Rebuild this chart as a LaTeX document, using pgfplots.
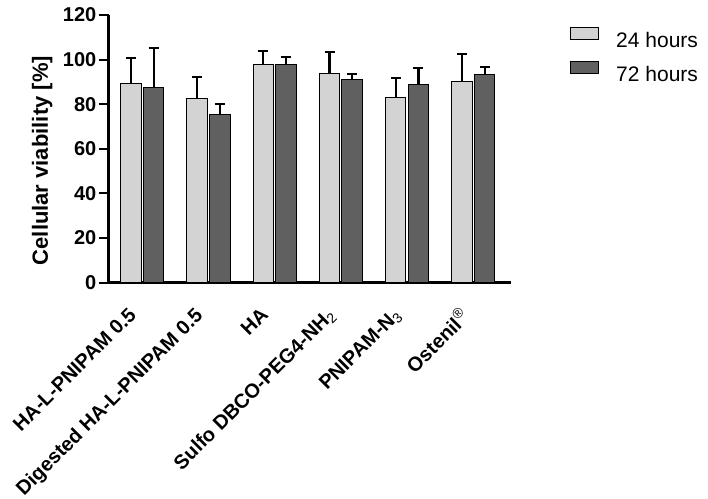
\documentclass[border=0pt]{standalone}
\usepackage{fontspec}
\setmainfont{Liberation Sans}
\usepackage{pgfplots}
\pgfplotsset{compat=1.18}
\definecolor{lightbar}{RGB}{211,211,211}
\definecolor{darkbar}{RGB}{96,96,96}
\begin{document}
\begin{tikzpicture}
\useasboundingbox (0,0) rectangle (708pt,498pt);
\begin{axis}[
  at={(108.5pt,215.3pt)}, anchor=south west,
  scale only axis, width=402.2pt, height=267.7pt,
  xmin=-0.51, xmax=5.565, ymin=0, ymax=120,
  axis lines=left, axis line style={-, line width=2.5pt, black},
  ybar=2.2pt, bar width=20.5pt,
  xtick={0,1,2,3,4,5},
  xticklabels={{HA-L-PNIPAM 0.5},{Digested HA-L-PNIPAM 0.5},{HA},{Sulfo DBCO-PEG4-NH\textsubscript{\mdseries 2}},{PNIPAM-N\textsubscript{\mdseries 3}},{Ostenil\textsuperscript{\mdseries\textregistered}}},
  major x tick style={draw=none},
  ytick={0,20,...,120},
  tick align=outside, major tick length=10pt,
  major y tick style={line width=2pt, black},
  /pgf/number format/assume math mode=true,
  yticklabel style={font=\fontsize{20}{24}\selectfont\bfseries, inner sep=2pt},
  xticklabel style={font=\fontsize{20}{24}\selectfont\bfseries, xshift=-15pt, yshift=-12pt, rotate=45, anchor=north east, inner sep=1pt},
  ylabel={Cellular viability [\%]},
  ylabel style={font=\fontsize{22}{26}\selectfont\bfseries, at={(axis description cs:-0.165,0.456)}, anchor=center},
  legend style={at={(1.1475,0.955)}, anchor=north west, draw=none, fill=none, inner sep=0pt,
    font=\fontsize{21}{25}\selectfont, row sep=12pt,
    nodes={inner sep=0pt},
    /tikz/every odd column/.style={column sep=17pt}},
  legend cell align=left,
  clip=false,
]
\addplot[fill=lightbar, draw=black, line width=1pt,
  legend image code/.code={\draw[fill=lightbar, draw=black, line width=1pt] (0pt,1pt) rectangle (28pt,13pt);},
  error bars/.cd, y dir=plus, y explicit,
  error bar style={line width=2.2pt, black},
  error mark options={rotate=90, line width=2.2pt, mark size=5pt, black}]
coordinates {
(0,89.4) +- (0,11.2)
(1,82.5) +- (0,9.8)
(2,97.9) +- (0,6.0)
(3,93.9) +- (0,9.5)
(4,82.9) +- (0,9.0)
(5,90.1) +- (0,12.4)
};
\addlegendentry{24 hours}
\addplot[fill=darkbar, draw=black, line width=1pt,
  legend image code/.code={\draw[fill=darkbar, draw=black, line width=1pt] (0pt,1pt) rectangle (28pt,13pt);},
  error bars/.cd, y dir=plus, y explicit,
  error bar style={line width=2.2pt, black},
  error mark options={rotate=90, line width=2.2pt, mark size=5pt, black}]
coordinates {
(0,87.4) +- (0,17.9)
(1,75.6) +- (0,4.5)
(2,98.0) +- (0,3.3)
(3,90.9) +- (0,2.8)
(4,88.9) +- (0,7.2)
(5,93.5) +- (0,3.3)
};
\addlegendentry{72 hours}
\end{axis}
\end{tikzpicture}
\end{document}
